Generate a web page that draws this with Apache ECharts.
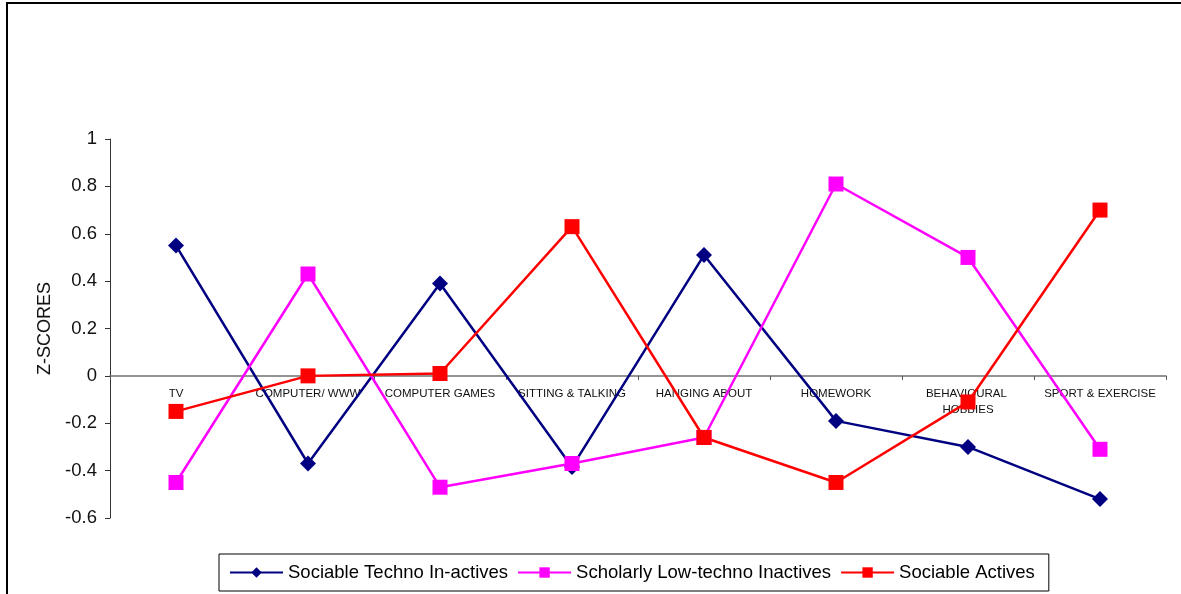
<!DOCTYPE html>
<html>
<head>
<meta charset="utf-8">
<script src="https://cdn.jsdelivr.net/npm/echarts@6/dist/echarts.min.js"></script>
<style>
  html, body { margin: 0; padding: 0; background: #fff; }
  #chart { width: 1181px; height: 594px; }
</style>
</head>
<body>
<div id="chart"></div>
<script>
// Leisure activities (categories) and mean z-scores per cluster
const categories = ['TV', 'COMPUTER/ WWW', 'COMPUTER GAMES', 'SITTING & TALKING',
  'HANGING ABOUT', 'HOMEWORK', 'BEHAVIOURAL HOBBIES', 'SPORT & EXERCISE'];
const seriesNames = ['Sociable Techno In-actives', 'Scholarly Low-techno Inactives', 'Sociable Actives'];
const technoInactives = [0.55, -0.37, 0.39, -0.385, 0.51, -0.19, -0.30, -0.52];
const scholarlyInactives = [-0.45, 0.43, -0.47, -0.37, -0.26, 0.81, 0.50, -0.31];
const sociableActives = [-0.15, 0.00, 0.01, 0.63, -0.26, -0.45, -0.11, 0.70];
const yTicks = { min: -0.6, max: 1, interval: 0.2 };

const font = '"Liberation Sans", Arial, sans-serif';
const grid = { left: 110, right: 15, top: 139, bottom: 76 };
const plotHeight = 594 - grid.top - grid.bottom;
// lift the category axis so it sits on the zero line
const zeroOffset = -plotHeight * (0 - yTicks.min) / (yTicks.max - yTicks.min);

function lineSeries(name, data, color, symbol, size) {
  return {
    name: name,
    type: 'line',
    data: data,
    symbol: symbol,
    symbolSize: size,
    lineStyle: { color: color, width: 2.5 },
    itemStyle: { color: color },
    emphasis: { disabled: true },
    z: 3
  };
}

const chart = echarts.init(document.getElementById('chart'), null, { renderer: 'canvas' });
chart.setOption({
  animation: false,
  backgroundColor: '#ffffff',
  textStyle: { fontFamily: font },
  grid: Object.assign({ containLabel: false }, grid),
  graphic: [{
    type: 'rect',
    shape: { x: 7, y: 3, width: 1200, height: 620 },
    style: { fill: 'none', stroke: '#000', lineWidth: 2 },
    silent: true
  }],
  xAxis: {
    type: 'category',
    data: categories,
    boundaryGap: true,
    offset: zeroOffset,
    axisLine: { onZero: false, lineStyle: { color: '#707070', width: 1.5 } },
    axisTick: { show: true, length: 4, alignWithLabel: false, lineStyle: { color: '#555' } },
    axisLabel: {
      interval: 0, color: '#111', fontSize: 11.5, fontFamily: font, margin: 10,
      width: 122, overflow: 'break', lineHeight: 16
    },
    splitLine: { show: false }
  },
  yAxis: {
    type: 'value',
    min: yTicks.min, max: yTicks.max, interval: yTicks.interval,
    name: 'Z-SCORES',
    nameLocation: 'middle',
    nameGap: 55,
    nameRotate: 90,
    nameTextStyle: { color: '#111', fontSize: 18, fontFamily: font },
    axisLine: { show: true, onZero: false, lineStyle: { color: '#333', width: 1 } },
    axisTick: { show: true, length: 5, lineStyle: { color: '#333' } },
    axisLabel: { color: '#111', fontSize: 18.5, fontFamily: font, margin: 13,
      formatter: v => String(Math.round(v * 10) / 10) },
    splitLine: { show: false }
  },
  legend: {
    data: seriesNames,
    left: 219,
    top: 554,
    itemWidth: 53,
    itemHeight: 13,
    itemGap: 9,
    padding: [9, 14, 9, 10],
    borderColor: '#000',
    borderWidth: 1,
    textStyle: { color: '#000', fontSize: 18.5, fontFamily: font }
  },
  series: [
    lineSeries(seriesNames[0], technoInactives, '#000080', 'diamond', [16, 16]),
    lineSeries(seriesNames[1], scholarlyInactives, '#ff00ff', 'rect', 15),
    lineSeries(seriesNames[2], sociableActives, '#ff0000', 'rect', 15)
  ]
});
</script>
</body>
</html>
